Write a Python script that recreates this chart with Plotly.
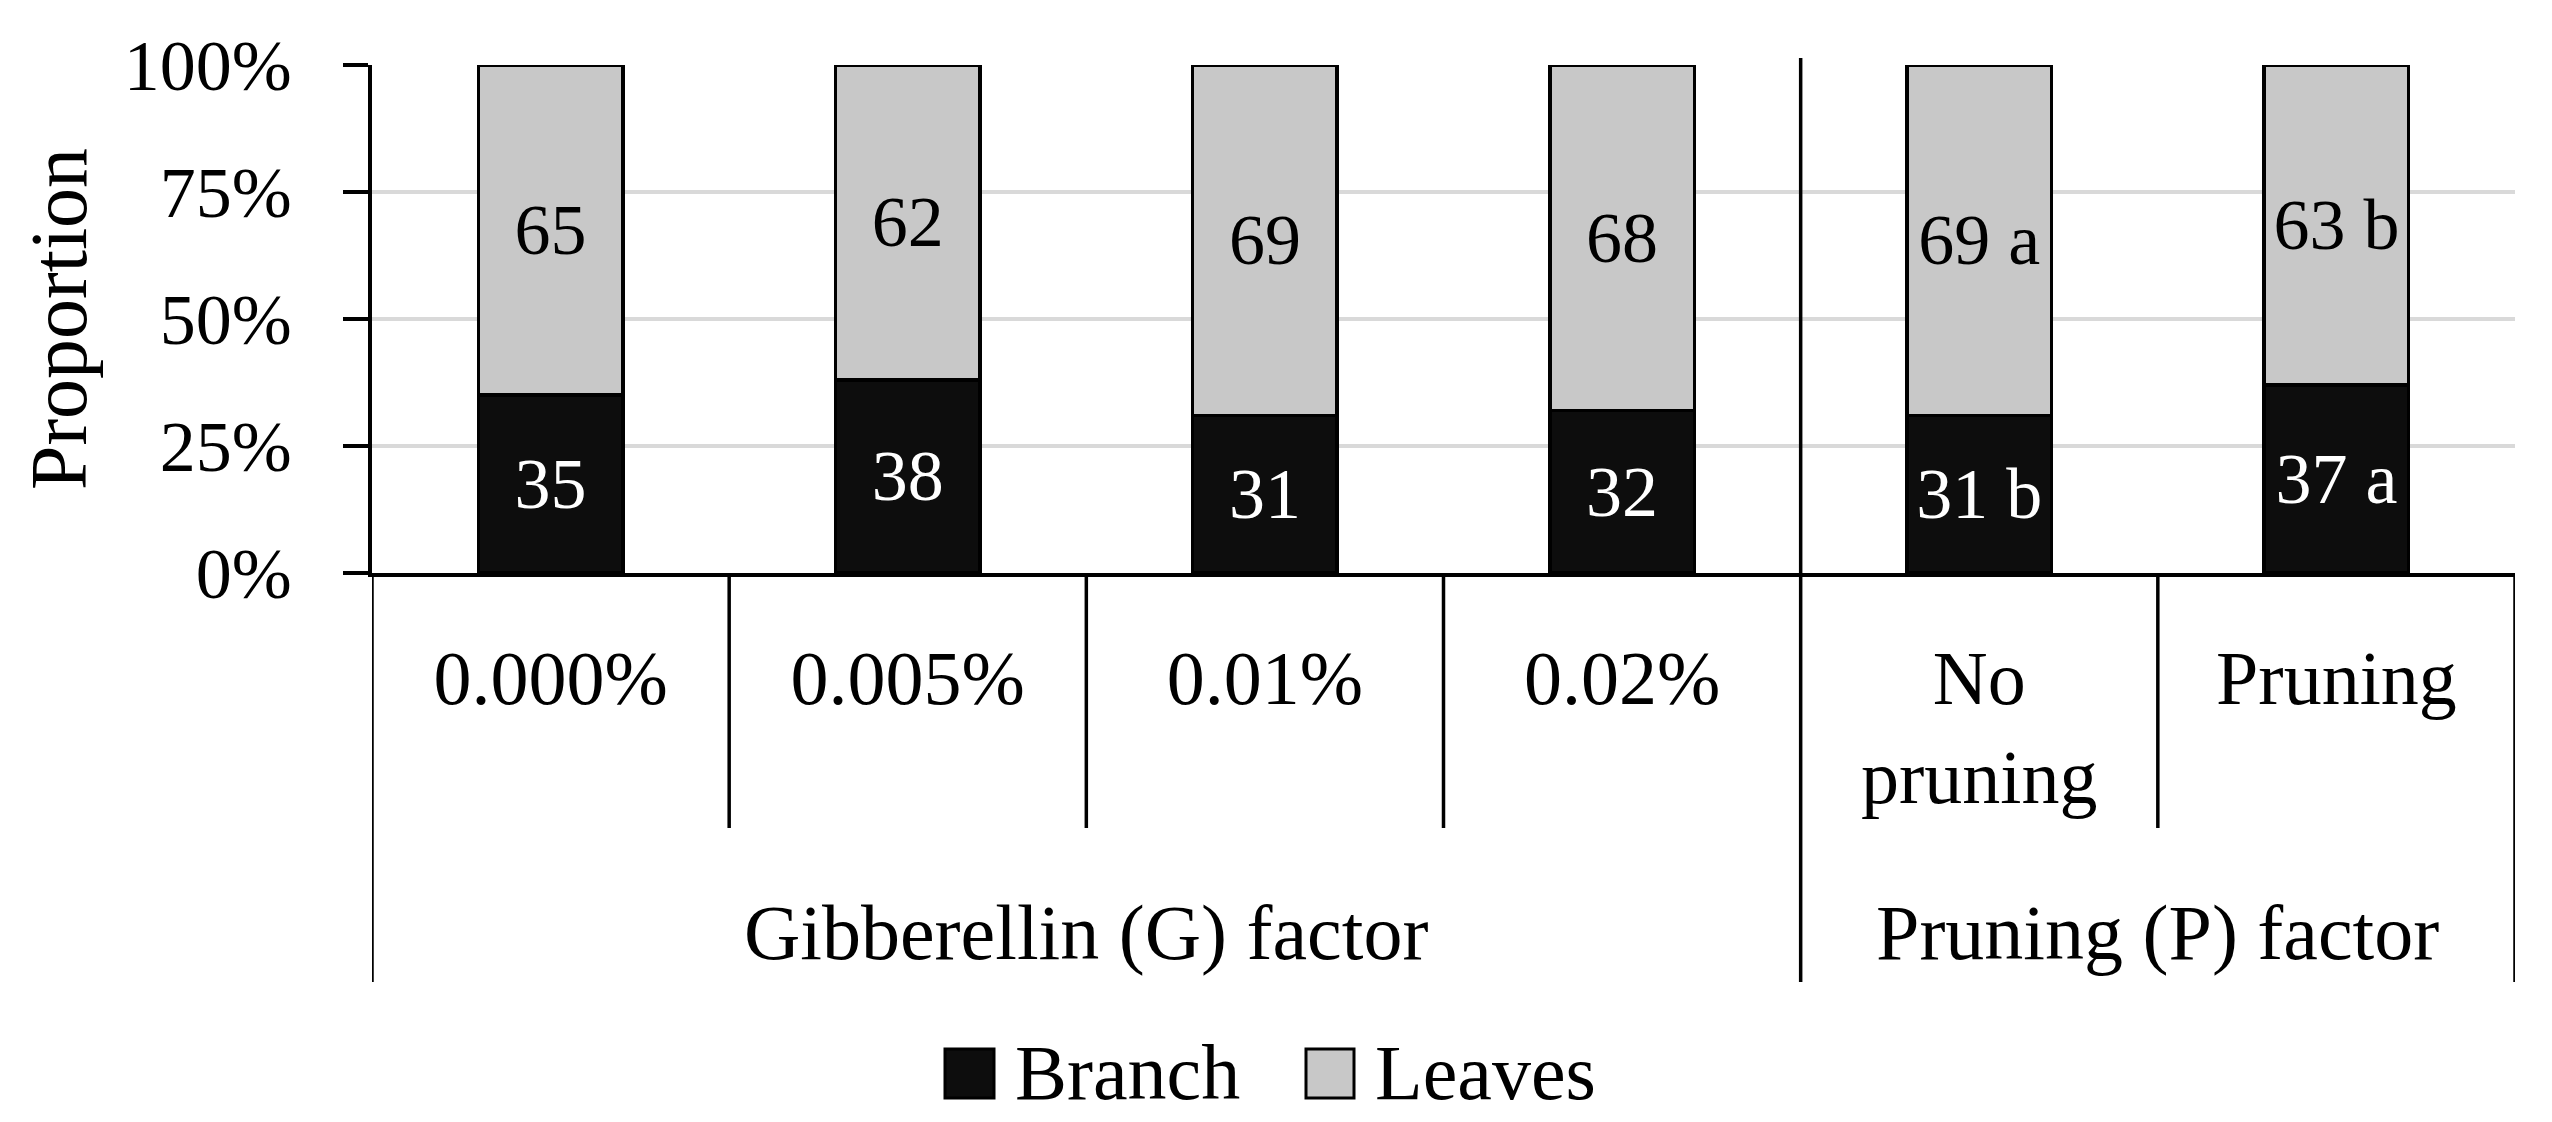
import plotly.graph_objects as go

# ---- data ----
categories = ["0.000%", "0.005%", "0.01%", "0.02%", "No<br>pruning", "Pruning"]
groups = ["Gibberellin (G) factor"] * 4 + ["Pruning (P) factor"] * 2
branch = [35, 38, 31, 32, 31, 37]
leaves = [65, 62, 69, 68, 69, 63]
branch_letters = ["", "", "", "", "b", "a"]
leaves_letters = ["", "", "", "", "a", "b"]
y_ticks = [0, 25, 50, 75, 100]
y_ticktext = ["0%", "25%", "50%", "75%", "100%"]

FONT = "Liberation Serif"
OFF = 8  # page body margin
W, H = 2552 - OFF, 1122 - OFF
L, R, T, B = 372 - OFF, 37, 65 - OFF, 549
PW, PH = W - L - R, H - T - B

def px2paper_x(px):
    return (px - OFF - L) / PW

def px2paper_y(py):
    return (H - B - (py - OFF)) / PH

def lab(v, s):
    return f"{v} {s}" if s else f"{v}"

x_idx = list(range(len(categories)))

fig = go.Figure()
fig.add_trace(go.Bar(
    x=x_idx, y=branch, name="Branch",
    marker=dict(color="#0d0d0d", line=dict(color="black", width=3.5)),
    text=[lab(v, s) for v, s in zip(branch, branch_letters)],
    textposition="inside", insidetextanchor="middle", constraintext="none",
    textfont=dict(family=FONT, size=72, color="white"),
    width=0.405, cliponaxis=False, showlegend=False,
))
fig.add_trace(go.Bar(
    x=x_idx, y=leaves, name="Leaves",
    marker=dict(color="#c8c8c8", line=dict(color="black", width=3.5)),
    text=[lab(v, s) for v, s in zip(leaves, leaves_letters)],
    textposition="inside", insidetextanchor="middle", constraintext="none",
    textfont=dict(family=FONT, size=72, color="black"),
    width=0.405, cliponaxis=False, showlegend=False,
))

shapes = []
annotations = []
for i in range(len(categories) + 1):
    xb = i - 0.5
    if i == 0 or i == len(categories) or groups[i] != groups[i - 1]:
        y0 = px2paper_y(982)
        y1 = px2paper_y(58) if 0 < i < len(categories) else 0
    else:
        y0 = px2paper_y(828)
        y1 = 0
    shapes.append(dict(type="line", xref="x", yref="paper", x0=xb, x1=xb,
                       y0=y0, y1=y1, line=dict(color="black", width=3.5)))

seen = []
for g in groups:
    if g not in seen:
        seen.append(g)
for g in seen:
    idx = [i for i, gg in enumerate(groups) if gg == g]
    xc = (min(idx) + max(idx)) / 2
    annotations.append(dict(text=g, xref="x", yref="paper", x=xc,
                            y=px2paper_y(932), showarrow=False,
                            xanchor="center", yanchor="middle",
                            font=dict(family=FONT, size=78, color="black")))

legend_items = [("Branch", "#0d0d0d", 945, 994, 1013),
                ("Leaves", "#c8c8c8", 1306, 1354, 1373)]
for name, col, x0, x1, xt in legend_items:
    shapes.append(dict(type="rect", xref="paper", yref="paper",
                       x0=px2paper_x(x0), x1=px2paper_x(x1),
                       y0=px2paper_y(1098), y1=px2paper_y(1049),
                       fillcolor=col, line=dict(color="black", width=3)))
    annotations.append(dict(text=name, xref="paper", yref="paper",
                            x=px2paper_x(xt), y=px2paper_y(1072),
                            showarrow=False, xanchor="left", yanchor="middle",
                            font=dict(family=FONT, size=78, color="black")))

fig.update_layout(
    width=W, height=H,
    margin=dict(l=L, r=R, t=T, b=B),
    paper_bgcolor="white", plot_bgcolor="white",
    barmode="stack",
    font=dict(family=FONT, color="black"),
    shapes=shapes, annotations=annotations,
    showlegend=False,
)
fig.update_xaxes(
    range=[-0.5, len(categories) - 0.5],
    tickmode="array", tickvals=x_idx, ticktext=categories,
    tickfont=dict(family=FONT, size=76, color="black"),
    ticks="", ticklabelstandoff=36,
    showline=True, linecolor="black", linewidth=3.5,
    showgrid=False, zeroline=False,
)
fig.update_yaxes(
    range=[0, 100], tickmode="array", tickvals=y_ticks, ticktext=y_ticktext,
    tickfont=dict(family=FONT, size=72, color="black"),
    ticks="outside", ticklen=25, tickwidth=3.5, tickcolor="black",
    ticklabelstandoff=37,
    showline=True, linecolor="black", linewidth=3.5,
    showgrid=True, gridcolor="#d9d9d9", gridwidth=3.5,
    zeroline=False,
    title=dict(text="Proportion", font=dict(family=FONT, size=80, color="black"),
               standoff=12),
)

fig.write_html("out.html")
